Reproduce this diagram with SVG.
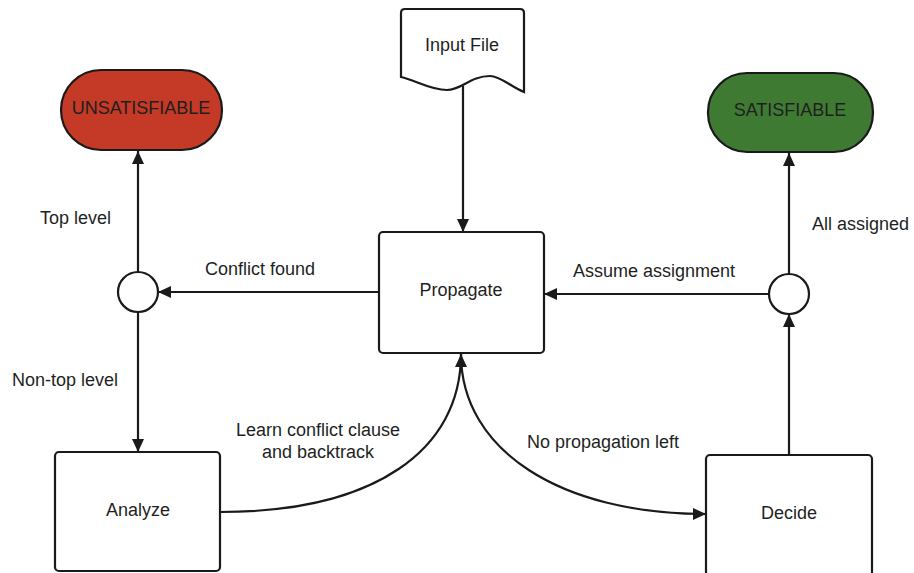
<svg xmlns="http://www.w3.org/2000/svg" width="914" height="573" viewBox="0 0 914 573">
  <defs>
    <marker id="arrow" viewBox="0 0 13 12" refX="13" refY="6" markerWidth="13" markerHeight="12" markerUnits="userSpaceOnUse" orient="auto">
      <path d="M0,0 L13,6 L0,12 Z" fill="#1a1a1a"/>
    </marker>
    <style>
      .box { fill: #ffffff; stroke: #1a1a1a; stroke-width: 2.2; }
      .edge { fill: none; stroke: #1a1a1a; stroke-width: 2.2; }
      .label { font-family: "Liberation Sans", Arial, sans-serif; font-size: 18px; fill: #1f1f1f; }
      .title { font-family: "Liberation Sans", Arial, sans-serif; font-size: 18px; fill: #1f1f1f; text-anchor: middle; }
    </style>
  </defs>
  <rect width="914" height="573" fill="#ffffff"/>

  <!-- connectors -->
  <g id="connectors">
    <path class="edge" d="M463,86 L463,232" marker-end="url(#arrow)"/>
    <path class="edge" d="M379,292 L158,292" marker-end="url(#arrow)"/>
    <path class="edge" d="M138,272 L138,151" marker-end="url(#arrow)"/>
    <path class="edge" d="M138,312 L138,452" marker-end="url(#arrow)"/>
    <path class="edge" d="M220,512 C375,512 461,450 461,354" marker-end="url(#arrow)"/>
    <path class="edge" d="M461,354 C461,450 560,514 706,514" marker-end="url(#arrow)"/>
    <path class="edge" d="M789,455 L789,314" marker-end="url(#arrow)"/>
    <path class="edge" d="M789,274 L789,153" marker-end="url(#arrow)"/>
    <path class="edge" d="M769,294 L544,294" marker-end="url(#arrow)"/>
  </g>

  <!-- connector labels -->
  <g id="edge-labels">
    <text class="label" x="40" y="224">Top level</text>
    <text class="label" x="12" y="386">Non-top level</text>
    <text class="label" x="205" y="275">Conflict found</text>
    <text class="label" x="573" y="277">Assume assignment</text>
    <text class="label" x="812" y="230">All assigned</text>
    <text class="title" x="318" y="436">Learn conflict clause</text>
    <text class="title" x="318" y="458">and backtrack</text>
    <text class="label" x="527" y="448">No propagation left</text>
  </g>

  <g id="input-file">
    <path class="box" d="M405,9 L520,9 Q524,9 524,13 L524,92 C510,86 500,76 490,76 C470,76 462,90 447,90 C430,90 415,80 401,77 L401,13 Q401,9 405,9 Z"/>
    <text class="title" x="462" y="51">Input File</text>
  </g>

  <g id="propagate">
    <rect class="box" x="379" y="232" width="165" height="121" rx="4"/>
    <text class="title" x="461" y="296">Propagate</text>
  </g>

  <g id="unsatisfiable">
    <rect x="61" y="70" width="161" height="80" rx="40" fill="#c43a26" stroke="#1a1a1a" stroke-width="2.2"/>
    <text class="title" x="141" y="114">UNSATISFIABLE</text>
  </g>

  <g id="satisfiable">
    <rect x="708" y="73" width="165" height="79" rx="39" fill="#3f7a33" stroke="#1a1a1a" stroke-width="2.2"/>
    <text class="title" x="790" y="116">SATISFIABLE</text>
  </g>

  <g id="junction-left">
    <circle class="box" cx="138" cy="292" r="20"/>
  </g>

  <g id="junction-right">
    <circle class="box" cx="789" cy="294" r="20"/>
  </g>

  <g id="analyze">
    <rect class="box" x="55" y="452" width="165" height="119" rx="4"/>
    <text class="title" x="138" y="516">Analyze</text>
  </g>

  <g id="decide">
    <rect class="box" x="706" y="455" width="166" height="130" rx="4"/>
    <text class="title" x="789" y="519">Decide</text>
  </g>
</svg>
